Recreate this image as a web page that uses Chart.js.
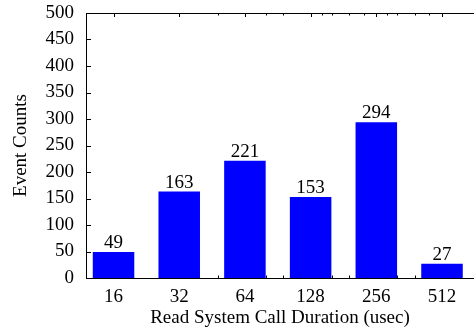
<!DOCTYPE html>
<html>
<head>
<meta charset="utf-8">
<script src="https://cdn.jsdelivr.net/npm/chart.js@4/dist/chart.umd.min.js"></script>
<style>
  html, body { margin: 0; padding: 0; background: #fff; }
  canvas { display: block; }
</style>
</head>
<body>
<canvas id="c" width="474" height="329"></canvas>
<script>
// Histogram of read() system call durations
const durations = [16, 32, 64, 128, 256, 512];
const eventCounts = [49, 163, 221, 153, 294, 27];
const yTickValues = [0, 50, 100, 150, 200, 250, 300, 350, 400, 450, 500];
// intermediate durations marked along the x edges (log2 spacing between bins)
const minorDurations = [48, 80, 96, 144, 160, 192, 224, 288, 320, 384, 448];

const serif = { family: "'Liberation Serif', 'Times New Roman', serif", size: 19 };

// position on the x scale: bin index = log2(duration / first duration)
const binOf = d => Math.log2(d / durations[0]);

const framePlugin = {
  id: 'frame',
  beforeDatasetsDraw(chart) {
    const { ctx, chartArea: a, scales: { x, y } } = chart;
    ctx.save();
    ctx.strokeStyle = '#000';
    ctx.lineWidth = 1;
    ctx.beginPath();
    // top border
    ctx.moveTo(a.left, a.top + 0.5);
    ctx.lineTo(a.right, a.top + 0.5);
    // y ticks pointing inward
    yTickValues.forEach(v => {
      const py = Math.round(y.getPixelForValue(v)) + 0.5;
      ctx.moveTo(a.left, py);
      ctx.lineTo(a.left + 5, py);
    });
    // major x ticks along the top
    durations.forEach(d => {
      const px = Math.round(x.getPixelForValue(binOf(d))) + 0.5;
      ctx.moveTo(px, a.top);
      ctx.lineTo(px, a.top + 4);
      ctx.moveTo(px, a.bottom);
      ctx.lineTo(px, a.bottom - 4);
    });
    // minor x ticks, top and bottom
    minorDurations.forEach(d => {
      const px = Math.round(x.getPixelForValue(binOf(d))) + 0.5;
      ctx.moveTo(px, a.top);
      ctx.lineTo(px, a.top + 2.5);
      ctx.moveTo(px, a.bottom);
      ctx.lineTo(px, a.bottom - 2.5);
    });
    ctx.stroke();
    ctx.restore();
  },
  afterDatasetsDraw(chart) {
    const { ctx } = chart;
    const meta = chart.getDatasetMeta(0);
    ctx.save();
    ctx.fillStyle = '#000';
    ctx.font = `${serif.size}px ${serif.family}`;
    ctx.textAlign = 'center';
    ctx.textBaseline = 'alphabetic';
    meta.data.forEach((bar, i) => {
      ctx.fillText(String(eventCounts[i]), bar.x, bar.y - 4);
    });
    ctx.restore();
  }
};

new Chart(document.getElementById('c'), {
  type: 'bar',
  data: {
    datasets: [{
      data: eventCounts.map((v, i) => ({ x: binOf(durations[i]), y: v })),
      backgroundColor: '#0000ff',
      borderWidth: 0,
      barPercentage: 0.632,
      categoryPercentage: 1
    }]
  },
  options: {
    responsive: false,
    animation: false,
    layout: { padding: { top: 13, right: 0, bottom: 0, left: 0 } },
    plugins: { legend: { display: false }, tooltip: { enabled: false } },
    scales: {
      x: {
        type: 'linear',
        offset: false,
        min: -0.419,
        max: 5.487,
        afterBuildTicks: s => { s.ticks = durations.map(d => ({ value: binOf(d) })); },
        afterFit: s => { s.height = 51; s.paddingLeft = 0; s.paddingRight = 0; },
        ticks: {
          font: serif,
          color: '#000',
          padding: 8,
          maxRotation: 0,
          autoSkip: false,
          callback: (v, i) => String(durations[i])
        },
        grid: { display: false, drawTicks: false, offset: false },
        border: { display: true, color: '#000', width: 1 },
        title: {
          display: true,
          text: 'Read System Call Duration (usec)',
          font: serif,
          color: '#000',
          padding: { top: 0, bottom: 0 }
        }
      },
      y: {
        min: 0,
        max: 500,
        afterBuildTicks: s => { s.ticks = yTickValues.map(v => ({ value: v })); },
        afterFit: s => { s.width = 86; s.paddingTop = 0; s.paddingBottom = 0; },
        ticks: { font: serif, color: '#000', padding: 12 },
        grid: { display: false, drawTicks: false },
        border: { display: true, color: '#000', width: 1 },
        title: {
          display: true,
          text: 'Event Counts',
          font: serif,
          color: '#000',
          padding: { top: 10, bottom: 0 }
        }
      }
    }
  },
  plugins: [framePlugin]
});
</script>
</body>
</html>
